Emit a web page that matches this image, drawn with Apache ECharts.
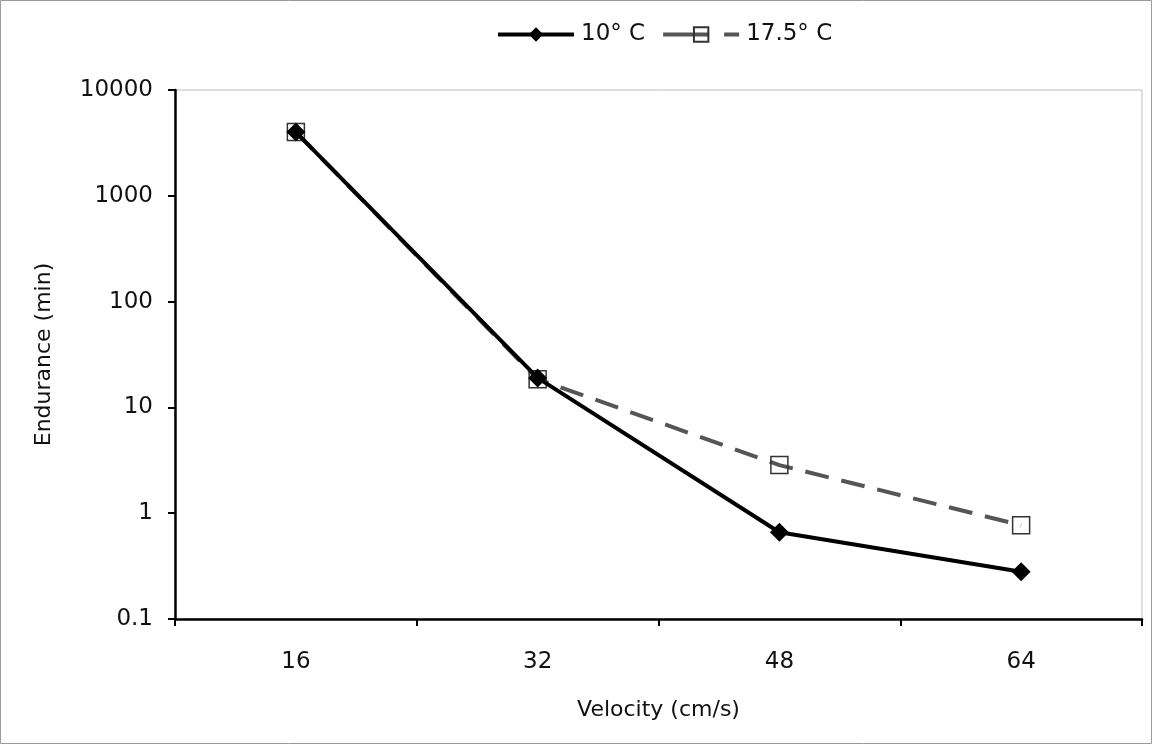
<!DOCTYPE html>
<html><head><meta charset="utf-8">
<script src="https://cdn.jsdelivr.net/npm/echarts@6/dist/echarts.min.js"></script>
<style>html,body{margin:0;padding:0;background:#fff}#c{width:1152px;height:744px}</style>
</head><body><div id="c"></div>
<script>
const categories = ['16', '32', '48', '64'];
const series10 = [4000, 19, 0.66, 0.28];
const series175 = [4000, 18.5, 2.85, 0.77];
const seriesNames = ['10° C', '17.5° C'];
const xTitle = 'Velocity (cm/s)';
const yTitle = 'Endurance (min)';

const font = 'DejaVu Sans';
const chart = echarts.init(document.getElementById('c'), null, {renderer: 'canvas'});
chart.setOption({
  backgroundColor: '#fff',
  animation: false,
  textStyle: {fontFamily: font},
  graphic: [{type: 'rect', shape: {x: 0.5, y: 0.5, width: 1151, height: 743}, style: {fill: 'none', stroke: '#999', lineWidth: 1}, silent: true}],
  legend: {
    top: 18, left: 491, itemWidth: 76, itemHeight: 18, itemGap: 16,
    textStyle: {fontSize: 23, color: '#111', fontFamily: font, padding: [0, 0, 0, 2]},
    lineStyle: {width: 4},
    data: [{name: seriesNames[0]}, {name: seriesNames[1], lineStyle: {type: [46, 15], width: 4}}]
  },
  grid: {left: 175, right: 10, top: 90, bottom: 125, show: true, borderColor: '#bbb', borderWidth: 1, containLabel: false},
  xAxis: {
    type: 'category', data: categories, boundaryGap: true,
    name: xTitle, nameLocation: 'middle', nameGap: 80,
    nameTextStyle: {fontSize: 22, color: '#111', fontFamily: font},
    axisLine: {lineStyle: {color: '#000', width: 2.5}},
    axisTick: {show: true, length: 7, lineStyle: {color: '#000', width: 2}},
    axisLabel: {fontSize: 23, color: '#111', margin: 32, fontFamily: font},
    splitLine: {show: false}
  },
  yAxis: {
    type: 'log', logBase: 10, min: 0.1, max: 10000,
    name: yTitle, nameLocation: 'middle', nameGap: 120, nameRotate: 90,
    nameTextStyle: {fontSize: 22, color: '#111', fontFamily: font},
    axisLine: {show: true, lineStyle: {color: '#000', width: 2.5}},
    axisTick: {show: true, length: 7, lineStyle: {color: '#000', width: 2}},
    axisLabel: {fontSize: 23, color: '#111', margin: 22, fontFamily: font,
      formatter: function (v) { return String(Math.round(v * 10) / 10); }},
    splitLine: {show: false}
  },
  series: [
    {
      name: seriesNames[1], type: 'line', data: series175, z: 2,
      symbol: 'rect', symbolSize: 17,
      lineStyle: {color: '#555', width: 4, type: [24, 13]},
      itemStyle: {color: 'rgba(255,255,255,0)', borderColor: '#333', borderWidth: 1.5}
    },
    {
      name: seriesNames[0], type: 'line', data: series10, z: 3,
      symbol: 'diamond', symbolSize: 19,
      lineStyle: {color: '#000', width: 4},
      itemStyle: {color: '#000', borderColor: '#000', borderWidth: 0}
    }
  ]
});
</script></body></html>
